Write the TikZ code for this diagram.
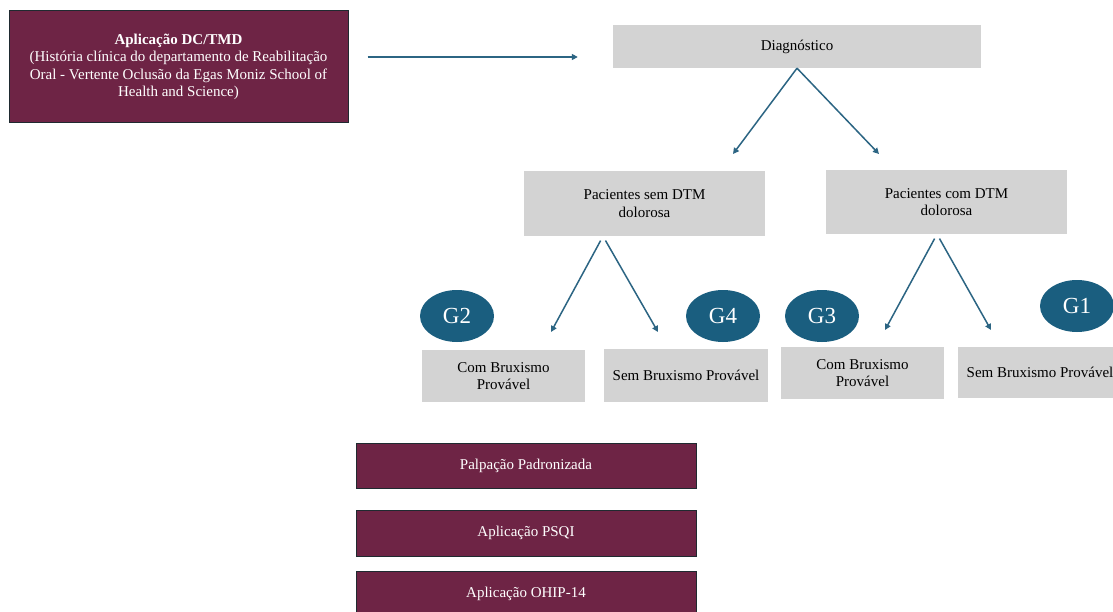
\documentclass[tikz,border=0pt]{standalone}
\usepackage{fontspec}
\setmainfont{Liberation Serif}
\usetikzlibrary{arrows.meta,shapes.geometric}
\definecolor{maroonfill}{HTML}{6E2445}
\definecolor{darkborder}{HTML}{1F2A30}
\definecolor{boxgray}{HTML}{D3D3D3}
\definecolor{tealarrow}{HTML}{2C6583}
\definecolor{tealgroup}{HTML}{1A5E7F}
\tikzset{
  txt/.style={font=\fontsize{15}{17.5}\selectfont},
  graybox/.style={txt, fill=boxgray, draw=none, inner sep=0pt, align=center},
  maroonbox/.style={txt, fill=maroonfill, draw=darkborder, line width=1pt, text=white, inner sep=0pt, align=center},
  grp/.style={ellipse, fill=tealgroup, text=white, inner sep=0pt, minimum width=74pt, minimum height=52pt, font=\fontsize{23}{23}\selectfont},
  arr/.style={draw=tealarrow, line width=1.5pt, -{Triangle[length=6pt,width=6pt]}}
}
\begin{document}
\begin{tikzpicture}[x=1pt,y=-1pt]
\useasboundingbox (0,0) rectangle (1113,612);
\clip (0,0) rectangle (1113,612);
\fill[white] (0,0) rectangle (1113,612);

\node[maroonbox, minimum width=339pt, minimum height=112pt] (dc) at (178.5,67)
  {\textbf{Aplicação DC/TMD}\\(História clínica do departamento de Reabilitação\\Oral - Vertente Oclusão da Egas Moniz School of\\Health and Science)};

\node[graybox, minimum width=368pt, minimum height=43pt] (diag) at (797,46.5) {Diagnóstico};
\node[graybox, minimum width=241pt, minimum height=65pt] (sem) at (644.5,203.5) {Pacientes sem DTM\\dolorosa};
\node[graybox, minimum width=241pt, minimum height=64pt] (com) at (946.5,202) {Pacientes com DTM\\dolorosa};

\node[graybox, minimum width=163pt, minimum height=52pt] (cb2) at (503.5,376) {Com Bruxismo\\Provável};
\node[graybox, minimum width=164pt, minimum height=53pt] (sb4) at (686,375.5) {Sem Bruxismo Provável};
\node[graybox, minimum width=163pt, minimum height=52pt] (cb3) at (862.5,373) {Com Bruxismo\\Provável};
\node[graybox, minimum width=164pt, minimum height=51pt] (sb1) at (1040,372.5) {Sem Bruxismo Provável};

\node[grp] (g2) at (457,316) {G2};
\node[grp] (g4) at (723,316) {G4};
\node[grp] (g3) at (822,316) {G3};
\node[grp] (g1) at (1077,306) {G1};

\node[maroonbox, minimum width=340pt, minimum height=45pt] (palp) at (526,465.5) {Palpação Padronizada};
\node[maroonbox, minimum width=340pt, minimum height=46pt] (psqi) at (526,533) {Aplicação PSQI};
\node[maroonbox, minimum width=340pt, minimum height=46pt] (ohip) at (526,594) {Aplicação OHIP-14};

\coordinate (dl) at (733,154);
\coordinate (dr) at (879,154);
\coordinate (sl) at (551,332);
\coordinate (sr) at (658,332);
\coordinate (cl) at (885,330);
\coordinate (cr) at (991,330);

\draw[arr] ([xshift=19pt,yshift=10pt]dc.east) -- ([xshift=-35pt,yshift=-10.5pt]diag.west);
\draw[arr] (diag.south) -- (dl);
\draw[arr] (diag.south) -- (dr);
\draw[arr, shorten <=5pt] ([xshift=-41.5pt]sem.south) -- (sl);
\draw[arr, shorten <=5pt] ([xshift=-41.5pt]sem.south) -- (sr);
\draw[arr, shorten <=5pt] ([xshift=-9.5pt]com.south) -- (cl);
\draw[arr, shorten <=5pt] ([xshift=-9.5pt]com.south) -- (cr);
\end{tikzpicture}
\end{document}
